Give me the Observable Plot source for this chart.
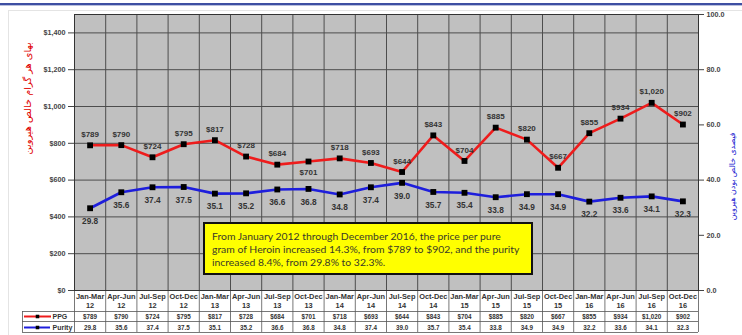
<!DOCTYPE html>
<html><head><meta charset="utf-8">
<script src="https://cdn.jsdelivr.net/npm/d3@7"></script>
<script src="https://cdn.jsdelivr.net/npm/@observablehq/plot@0.6"></script>
<style>
html,body{margin:0;padding:0;background:#fff}
body{width:742px;height:335px;overflow:hidden;position:relative;font-family:Arial,"Liberation Sans",sans-serif}
#frame{position:absolute;left:8px;top:10px;width:740px;height:340px;border:1px solid #e4e4e4}
#topbar{position:absolute;left:0;top:3px;width:742px;height:2px;background:#3e4fa3}
#topbar2{position:absolute;left:0;top:5px;width:742px;height:1px;background:#b9c0dd}
#chart{position:absolute;left:0;top:0}
#note{position:absolute;left:203px;top:222px;width:330px;height:53px;box-sizing:border-box;background:#ffff00;border:2px solid #111;font-family:Lato,"Open Sans",sans-serif;font-size:10.4px;line-height:13px;color:#3a3a28;padding:6px 0 0 7px;white-space:nowrap;overflow:hidden}
</style></head>
<body>
<div id="frame"></div>
<div id="topbar"></div><div id="topbar2"></div>
<div id="chart"></div>
<div id="note">From January 2012 through December 2016, the price per pure<br>gram of Heroin increased 14.3%, from $789 to $902, and the purity<br>increased 8.4%, from 29.8% to 32.3%.</div>
<script>
// ---- data ----
const quarters = ["Jan-Mar","Apr-Jun","Jul-Sep","Oct-Dec","Jan-Mar","Apr-Jun","Jul-Sep","Oct-Dec","Jan-Mar","Apr-Jun","Jul-Sep","Oct-Dec","Jan-Mar","Apr-Jun","Jul-Sep","Oct-Dec","Jan-Mar","Apr-Jun","Jul-Sep","Oct-Dec"];
const years = ["12","12","12","12","13","13","13","13","14","14","14","14","15","15","15","15","16","16","16","16"];
const ppg = [789,790,724,795,817,728,684,701,718,693,644,843,704,885,820,667,855,934,1020,902];
const purity = [29.8,35.6,37.4,37.5,35.1,35.2,36.6,36.8,34.8,37.4,39.0,35.7,35.4,33.8,34.9,34.9,32.2,33.6,34.1,32.3];
const ppgTicks = [0,200,400,600,800,1000,1200,1400];
const purityTicks = [0,20,40,60,80,100];
const seriesNames = ["PPG","Purity"];
const leftTitle = "بهای هر گرام خالص هیروین";
const rightTitle = "فیصدی خالص بودن هیروین";

// ---- layout ----
const W = 742, H = 335, mL = 74, mR = 44, mT = 14, mB = 45;
const PPG_MAX = 1500, PUR_MAX = 100, F = PPG_MAX / PUR_MAX;
const n = quarters.length;
const plotBottom = H - mB, plotH = H - mB - mT, colW = (W - mL - mR) / n;
const yv = px => (plotBottom - px) * PPG_MAX / plotH;   // pixel row -> y value (table area below frame)
const xv = px => (px - mL) / colW;                      // pixel col -> x value

const rows = quarters.map((q, i) => ({x: i + 0.5, q, yr: years[i], ppg: ppg[i], pur: purity[i] * F, purVal: purity[i], below: ppg[i] === 701}));
const fmt$ = d => "$" + d3.format(",")(d);
const RED = "#ee1c1c", BLUE = "#1e1edc", GRID = "#4d4d4d", TXT = "#333";

const chart = Plot.plot({
  width: W, height: H, marginLeft: mL, marginRight: mR, marginTop: mT, marginBottom: mB,
  x: {domain: [0, n], axis: null},
  y: {domain: [0, PPG_MAX]},
  style: {fontFamily: "Arial, 'Liberation Sans', sans-serif", background: "transparent", overflow: "visible"},
  marks: [
    Plot.frame({fill: "#c0c0c0"}),
    Plot.ruleY(ppgTicks.slice(1), {stroke: GRID, strokeWidth: 1}),
    Plot.ruleX(d3.range(1, n), {stroke: GRID, strokeWidth: 1}),
    // table grid
    Plot.ruleX(d3.range(0, n + 1), {y1: 0, y2: yv(332), stroke: "#555", strokeWidth: 0.8}),
    Plot.ruleY([yv(311), yv(321), yv(332)], {x1: xv(22), x2: n, stroke: "#555", strokeWidth: 0.8}),
    Plot.ruleX([xv(22)], {y1: yv(311), y2: yv(332), stroke: "#555", strokeWidth: 0.8}),
    Plot.frame({stroke: "#333", strokeWidth: 1}),
    // axes
    Plot.axisY(ppgTicks, {anchor: "left", tickFormat: fmt$, tickSize: 6, tickPadding: 3, fontSize: 7.2, fontWeight: "bold", color: "#444", label: null}),
    Plot.axisY(purityTicks.map(v => v * F), {anchor: "right", tickFormat: d => (d / F).toFixed(1), tickSize: 5, tickPadding: 3, fontSize: 7.2, fontWeight: "bold", color: "#444", label: null}),
    Plot.text([leftTitle], {frameAnchor: "left", dx: -47, dy: 2, rotate: -90, fill: "#e00000", fontSize: 9.8, fontFamily: "DejaVu Sans"}),
    Plot.text([rightTitle], {frameAnchor: "right", dx: 34, dy: -20, rotate: -90, fill: "#2020d0", fontSize: 7.8, fontFamily: "DejaVu Sans"}),
    // series
    Plot.line(rows, {x: "x", y: "ppg", stroke: RED, strokeWidth: 2.6}),
    Plot.line(rows, {x: "x", y: "pur", stroke: BLUE, strokeWidth: 2.6}),
    Plot.dot(rows, {x: "x", y: "ppg", symbol: "square", r: 3.3, fill: "#000"}),
    Plot.dot(rows, {x: "x", y: "pur", symbol: "square", r: 3.3, fill: "#000"}),
    Plot.text(rows, {x: "x", y: "ppg", text: d => fmt$(d.ppg), fontSize: 8, fontWeight: "bold", fill: TXT, filter: d => !d.below, dy: -11}),
    Plot.text(rows, {x: "x", y: "ppg", text: d => fmt$(d.ppg), fontSize: 8, fontWeight: "bold", fill: TXT, filter: d => d.below, dy: 11}),
    Plot.text(rows, {x: "x", y: "pur", text: d => d.purVal.toFixed(1), fontSize: 8.3, fontWeight: "bold", fill: TXT, dy: 13}),
    // table
    Plot.text(rows, {x: "x", y: yv(300), text: d => d.q + "\n" + d.yr, fontSize: 7.4, fontWeight: "bold", fill: TXT, lineHeight: 1.2}),
    Plot.text(rows, {x: "x", y: yv(316), text: d => fmt$(d.ppg), fontSize: 6.3, fontWeight: "bold", fill: TXT}),
    Plot.text(rows, {x: "x", y: yv(327), text: d => d.purVal.toFixed(1), fontSize: 6.3, fontWeight: "bold", fill: TXT}),
    // legend inside table
    Plot.ruleY([yv(316)], {x1: xv(24), x2: xv(51), stroke: RED, strokeWidth: 2}),
    Plot.ruleY([yv(327)], {x1: xv(24), x2: xv(50), stroke: BLUE, strokeWidth: 2}),
    Plot.dot([yv(316), yv(327)], {x: xv(37), y: d => d, symbol: "square", r: 2, fill: "#000"}),
    Plot.text(seriesNames, {x: xv(52), y: (d, i) => i === 0 ? yv(316) : yv(327), text: d => d, textAnchor: "start", fontSize: 7, fontWeight: "bold", fill: TXT})
  ]
});
document.getElementById("chart").appendChild(chart);
</script>
</body></html>
